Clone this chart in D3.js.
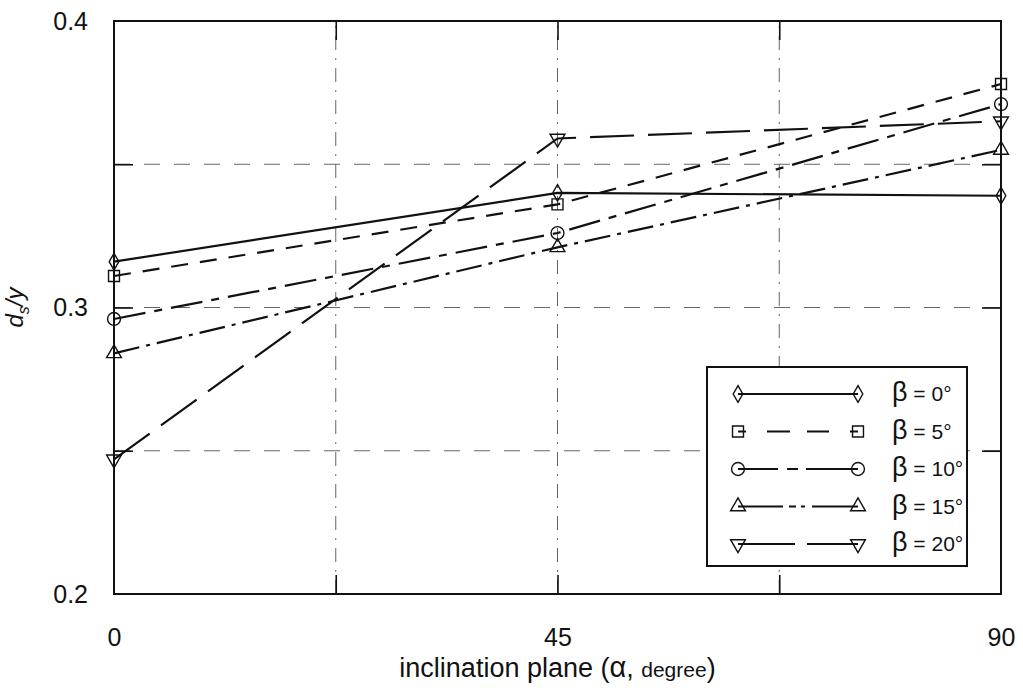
<!DOCTYPE html>
<html>
<head>
<meta charset="utf-8">
<script src="https://cdn.jsdelivr.net/npm/d3@7"></script>
<style>
  body { margin: 0; background: #fff; }
  text { font-family: "Liberation Sans", Arial, sans-serif; fill: #111; }
</style>
</head>
<body>
<div id="chart"></div>
<script>
// inclination angle alpha (degree)
const alpha = [0, 45, 90];
const betaLabels = ["0", "5", "10", "15", "20"];
const beta0 = [0.316, 0.340, 0.339];
const beta5 = [0.311, 0.336, 0.378];
const beta10 = [0.296, 0.326, 0.371];
const beta15 = [0.284, 0.321, 0.355];
const beta20 = [0.247, 0.359, 0.365];
const xTickLabels = [0, 45, 90];
const xGrid = [22.5, 45, 67.5];
const yTickLabels = [0.2, 0.3, 0.4];
const yGrid = [0.25, 0.3, 0.35];

const width = 1023, height = 690;
const margin = {left: 114, right: 22, top: 21, bottom: 96};

const svg = d3.select("#chart").append("svg")
    .attr("width", width)
    .attr("height", height);

const x = d3.scaleLinear().domain([0, 90]).range([margin.left, width - margin.right]);
const y = d3.scaleLinear().domain([0.2, 0.4]).range([height - margin.bottom, margin.top]);

// grid lines
svg.append("g").selectAll("line").data(yGrid).join("line")
    .attr("x1", x(0)).attr("x2", x(90))
    .attr("y1", d => y(d)).attr("y2", d => y(d))
    .attr("stroke", "#666").attr("stroke-width", 1)
    .attr("stroke-dasharray", "16,14");
svg.append("g").selectAll("line").data(xGrid).join("line")
    .attr("x1", d => x(d)).attr("x2", d => x(d))
    .attr("y1", y(0.2)).attr("y2", y(0.4))
    .attr("stroke", "#666").attr("stroke-width", 1)
    .attr("stroke-dasharray", "14,8,2,8");

// inward ticks on all four sides
const tickLen = 19;
const tickAxes = [
    [d3.axisBottom(x).tickValues(xGrid), `translate(0,${y(0.2)})`],
    [d3.axisTop(x).tickValues(xGrid), `translate(0,${y(0.4)})`],
    [d3.axisLeft(y).tickValues(yGrid), `translate(${x(0)},0)`],
    [d3.axisRight(y).tickValues(yGrid), `translate(${x(90)},0)`]
];
tickAxes.forEach(([ax, tr]) => {
    const g = svg.append("g").attr("transform", tr)
        .call(ax.tickSize(-tickLen).tickFormat(""));
    g.select(".domain").remove();
    g.selectAll(".tick line").attr("stroke", "#111").attr("stroke-width", 1.6);
});

// labelled axes
const xAxis = svg.append("g").attr("transform", `translate(0,${y(0.2)})`)
    .call(d3.axisBottom(x).tickValues(xTickLabels).tickSize(0).tickPadding(34).tickFormat(d3.format("d")));
xAxis.select(".domain").remove();
xAxis.selectAll("text").attr("font-size", 25).attr("font-family", null);

const yAxis = svg.append("g").attr("transform", `translate(${x(0)},0)`)
    .call(d3.axisLeft(y).tickValues(yTickLabels).tickSize(0).tickPadding(26).tickFormat(d3.format(".1f")));
yAxis.select(".domain").remove();
yAxis.selectAll("text").attr("font-size", 25).attr("font-family", null);

// frame
svg.append("rect")
    .attr("x", x(0)).attr("y", y(0.4))
    .attr("width", x(90) - x(0)).attr("height", y(0.2) - y(0.4))
    .attr("fill", "none").attr("stroke", "#111").attr("stroke-width", 2);

// series
const series = [
    {values: beta0, dash: null, legendDash: null, symbol: d3.symbolDiamond, size: 80, rot: 0},
    {values: beta5, dash: "17,12", legendDash: "8,21,23,17,22,21,8", symbol: d3.symbolSquare, size: 120, rot: 0},
    {values: beta10, dash: "32,9,8,9", legendDash: "40,9,11,8,52", symbol: d3.symbolCircle, size: 130, rot: 0},
    {values: beta15, dash: "26,7,4,7", legendDash: "45,6,7,5,4,7,46", symbol: d3.symbolTriangle, size: 95, rot: 0},
    {values: beta20, dash: "44,14", legendDash: "57,12,51", symbol: d3.symbolTriangle, size: 95, rot: 180}
];

const line = d3.line().x((d, i) => x(alpha[i])).y(d => y(d));

series.forEach(s => {
    svg.append("path")
        .attr("d", line(s.values))
        .attr("fill", "none")
        .attr("stroke", "#111")
        .attr("stroke-width", 2.2)
        .attr("stroke-dasharray", s.dash);
    svg.append("g").selectAll("path").data(s.values).join("path")
        .attr("d", d3.symbol().type(s.symbol).size(s.size))
        .attr("transform", (d, i) => `translate(${x(alpha[i])},${y(d)}) rotate(${s.rot})`)
        .attr("fill", "none")
        .attr("stroke", "#111")
        .attr("stroke-width", 1.4);
});

// legend
const legend = svg.append("g").attr("transform", "translate(707,367)");
legend.append("rect")
    .attr("width", 260).attr("height", 199)
    .attr("fill", "#fff").attr("stroke", "#111").attr("stroke-width", 2);
series.forEach((s, i) => {
    const ly = 27 + i * 37.5;
    legend.append("line")
        .attr("x1", 31).attr("x2", 151).attr("y1", ly).attr("y2", ly)
        .attr("stroke", "#111").attr("stroke-width", 2)
        .attr("stroke-dasharray", s.legendDash);
    [31, 151].forEach(lx => {
        legend.append("path")
            .attr("d", d3.symbol().type(s.symbol).size(s.size))
            .attr("transform", `translate(${lx},${ly}) rotate(${s.rot})`)
            .attr("fill", "none").attr("stroke", "#111").attr("stroke-width", 1.4);
    });
    const t = legend.append("text")
        .attr("x", 185).attr("y", ly).attr("dy", "0.35em")
        .attr("font-size", 21);
    t.append("tspan").attr("font-size", 27).text("β");
    t.append("tspan").text(` = ${betaLabels[i]}°`);
});

// axis titles
const xt = svg.append("text")
    .attr("x", x(45)).attr("y", 677)
    .attr("text-anchor", "middle")
    .attr("font-size", 27);
xt.append("tspan").text("inclination plane (");
xt.append("tspan").attr("font-size", 29).text("α");
xt.append("tspan").text(", ");
xt.append("tspan").attr("font-size", 21).text("degree");
xt.append("tspan").text(")");

const yt = svg.append("text")
    .attr("transform", `translate(23,${y(0.3)}) rotate(-90)`)
    .attr("text-anchor", "middle")
    .attr("font-size", 24)
    .attr("font-style", "italic");
yt.append("tspan").text("d");
yt.append("tspan").attr("font-size", 16).attr("dy", 6).text("s");
yt.append("tspan").attr("dy", -6).text("/y");
</script>
</body>
</html>
